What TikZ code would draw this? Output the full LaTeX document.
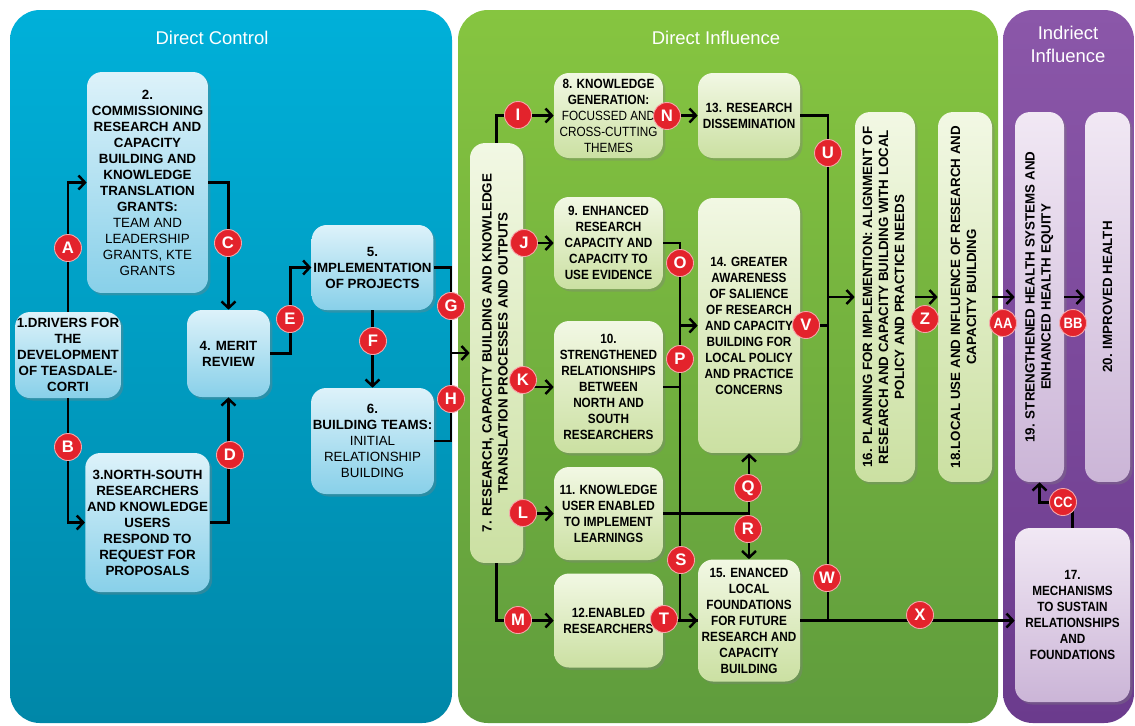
\documentclass[tikz,border=0pt]{standalone}
\usepackage{fontspec}
\setmainfont{Liberation Sans}
\newfontfamily\narrowfont[FakeStretch=0.88]{Liberation Sans}
\usetikzlibrary{positioning}
\usetikzlibrary{arrows.meta}
\usetikzlibrary{shadows}
\definecolor{ctrltop}{HTML}{00B0D9}
\definecolor{ctrlbottom}{HTML}{0087A8}
\definecolor{infltop}{HTML}{86C540}
\definecolor{inflbottom}{HTML}{5F9C3D}
\definecolor{indtop}{HTML}{8B57A9}
\definecolor{indbottom}{HTML}{6B3B8D}
\definecolor{ctrlboxtop}{HTML}{DDF2FA}
\definecolor{ctrlboxbottom}{HTML}{88D0E9}
\definecolor{inflboxtop}{HTML}{F2F8E4}
\definecolor{inflboxbottom}{HTML}{CBE0A2}
\definecolor{indboxtop}{HTML}{F1E8F4}
\definecolor{indboxbottom}{HTML}{CBB5D7}
\definecolor{badgered}{HTML}{E3232C}
\newcommand{\boxfont}{\fontsize{7.6}{9.1}\selectfont\bfseries}
\newcommand{\narrowbox}{\narrowfont\fontsize{7.6}{9.1}\selectfont\bfseries}
\newcommand{\plain}[1]{{\mdseries #1}}
\newcommand{\vlines}[1]{\rotatebox{90}{\begin{tabular}{@{}c@{}}#1\end{tabular}}}
\tikzstyle{panel} = [rounded corners=0.6cm]
\tikzstyle{paneltitle} = [white, font=\fontsize{10.5}{13}\selectfont, align=center]
\tikzstyle{process} = [rectangle, rounded corners=0.3cm, align=center, inner sep=1pt, drop shadow={opacity=0.35, shadow xshift=0.05cm, shadow yshift=-0.05cm}]
\tikzstyle{control} = [process, top color=ctrlboxtop, bottom color=ctrlboxbottom, font=\boxfont]
\tikzstyle{influence} = [process, top color=inflboxtop, bottom color=inflboxbottom, font=\narrowbox]
\tikzstyle{indirect} = [process, top color=indboxtop, bottom color=indboxbottom, font=\narrowbox]
\tikzstyle{badge} = [circle, fill=badgered, draw=white!60!badgered, line width=0.5pt, text=white, font=\fontsize{9.5}{10}\selectfont\bfseries, minimum size=0.54cm, inner sep=0pt]
\tikzstyle{double badge} = [badge, font=\narrowfont\fontsize{8.5}{9}\selectfont\bfseries]
\tikzstyle{link} = [line width=1.4pt]
\tikzstyle{arrowlink} = [link, -{Straight Barb[length=1.3mm, width=2.8mm]}]

\begin{document}
\begin{tikzpicture}[x=0.02cm, y=-0.02cm]
  \useasboundingbox (0,0) rectangle (1135,725);
  \fill[white] (0,0) rectangle (1135,725);
  % the three areas
  \path[panel, top color=ctrltop, bottom color=ctrlbottom] (10,10) rectangle (452,723);
  \path[panel, top color=infltop, bottom color=inflbottom] (458,10) rectangle (998,723);
  \path[panel, top color=indtop, bottom color=indbottom] (1003,10) rectangle (1134,723);
  \node[paneltitle] (tcontrol) at (212,38) {Direct Control};
  \node[paneltitle] (tinfluence) at (716,38) {Direct Influence};
  \node[paneltitle] (tindirect) at (1068,44) {Indriect\\Influence};

  % direct control
  \node[control, minimum width=2.0cm, minimum height=1.72cm] (n1) at (68,355) {1.DRIVERS FOR\\THE\\DEVELOPMENT\\OF TEASDALE-\\CORTI};
  \node[control, minimum width=2.42cm, minimum height=4.42cm] (n2) at (147.5,182.5) {2.\\COMMISSIONING\\RESEARCH AND\\CAPACITY\\BUILDING AND\\KNOWLEDGE\\TRANSLATION\\GRANTS:\\\plain{TEAM AND}\\\plain{LEADERSHIP}\\\plain{GRANTS, KTE}\\\plain{GRANTS}};
  \node[control, minimum width=2.42cm, minimum height=2.78cm] (n3) at (147.5,522.5) {3.NORTH-SOUTH\\RESEARCHERS\\AND KNOWLEDGE\\USERS\\RESPOND TO\\REQUEST FOR\\PROPOSALS};
  \node[control, minimum width=1.66cm, minimum height=1.74cm] (n4) at (228.5,353.5) {4. MERIT\\REVIEW};
  \node[control, minimum width=2.42cm, minimum height=1.7cm] (n5) at (372.5,267.5) {5.\\IMPLEMENTATION\\OF PROJECTS};
  \node[control, minimum width=2.42cm, minimum height=2.12cm] (n6) at (372.5,441) {6.\\BUILDING TEAMS:\\\plain{INITIAL}\\\plain{RELATIONSHIP}\\\plain{BUILDING}};

  % direct influence
  \node[influence, font=\boxfont, minimum width=1.06cm, minimum height=8.4cm] (n7) at (496.5,353) {\vlines{7. RESEARCH, CAPACITY BUILDING AND KNOWLEDGE\\TRANSLATION PROCESSES AND OUTPUTS}};
  \node[influence, minimum width=2.18cm, minimum height=1.7cm] (n8) at (608.5,115.5) {8. KNOWLEDGE\\GENERATION:\\\plain{FOCUSSED AND}\\\plain{CROSS-CUTTING}\\\plain{THEMES}};
  \node[influence, minimum width=2.18cm, minimum height=1.84cm] (n9) at (608.5,243) {9. ENHANCED\\RESEARCH\\CAPACITY AND\\CAPACITY TO\\USE EVIDENCE};
  \node[influence, minimum width=2.18cm, minimum height=2.64cm] (n10) at (608.5,387) {10.\\STRENGTHENED\\RELATIONSHIPS\\BETWEEN\\NORTH  AND\\SOUTH\\RESEARCHERS};
  \node[influence, minimum width=2.18cm, minimum height=1.86cm] (n11) at (608.5,513.5) {11. KNOWLEDGE\\USER ENABLED\\TO IMPLEMENT\\LEARNINGS};
  \node[influence, minimum width=2.18cm, minimum height=1.88cm] (n12) at (608.5,620.5) {12.ENABLED\\RESEARCHERS};
  \node[influence, minimum width=2.04cm, minimum height=1.7cm] (n13) at (749,115.5) {13. RESEARCH\\DISSEMINATION};
  \node[influence, minimum width=2.04cm, minimum height=5.1cm] (n14) at (749,325.5) {14. GREATER\\AWARENESS\\OF SALIENCE\\OF RESEARCH\\AND CAPACITY\\BUILDING FOR\\LOCAL POLICY\\AND PRACTICE\\CONCERNS};
  \node[influence, minimum width=2.04cm, minimum height=2.44cm] (n15) at (749,620.5) {15. ENANCED\\LOCAL\\FOUNDATIONS\\FOR FUTURE\\RESEARCH AND\\CAPACITY\\BUILDING};
  \node[influence, font=\boxfont, minimum width=1.2cm, minimum height=7.4cm] (n16) at (885,297) {\vlines{16. PLANNING FOR IMPLEMENTION: ALIGNMENT OF\\RESEARCH AND CAPACITY BUILDING WITH LOCAL\\POLICY AND PRACTICE NEEDS}};
  \node[influence, font=\boxfont, minimum width=1.08cm, minimum height=7.4cm] (n18) at (965,297) {\vlines{18.LOCAL USE AND INFLUENCE OF RESEARCH  AND\\CAPACITY BUILDING}};

  % indirect influence
  \node[indirect, font=\boxfont, minimum width=0.98cm, minimum height=7.4cm] (n19) at (1039.5,297) {\vlines{19. STRENGTHENED HEALTH SYSTEMS AND\\ENHANCED HEALTH EQUITY}};
  \node[indirect, font=\boxfont, minimum width=0.9cm, minimum height=7.4cm] (n20) at (1107.5,297) {\rotatebox{90}{20. IMPROVED HEALTH}};
  \node[indirect, minimum width=2.3cm, minimum height=3.48cm] (n17) at (1072.5,615) {17.\\MECHANISMS\\TO SUSTAIN\\RELATIONSHIPS\\AND\\FOUNDATIONS};

  % joints
  \coordinate (gh) at (451,353);
  \coordinate (c14) at (680,325.5);
  \coordinate (c16) at (828,297);

  % connectors
  \draw[arrowlink] (n1.north) |- (n2.west);
  \draw[arrowlink] (n1.south) |- (n3.west);
  \draw[arrowlink] (n2.east) -| (n4.north);
  \draw[arrowlink] (n3.east) -| (n4.south);
  \draw[arrowlink] (n4.east) -- ++(20,0) |- (n5.west);
  \draw[arrowlink] (n5.south) -- (n6.north);
  \draw[arrowlink] (n5.east) -| (gh) -- (n7.west);
  \draw[link] (n6.east) -| (gh);
  \draw[arrowlink] (n7.north) |- (n8.west);
  \draw[arrowlink] (n7.east |- n9.west) -- (n9.west);
  \draw[arrowlink] (n7.east |- n10.west) -- (n10.west);
  \draw[arrowlink] (n7.east |- n11.west) -- (n11.west);
  \draw[arrowlink] (n7.south) |- (n12.west);
  \draw[arrowlink] (n8.east) -- (n13.west);
  \draw[arrowlink] (n9.east) -| (c14) -- (n14.west);
  \draw[link] (n10.east) -| (c14);
  \draw[link] (n10.east) -- (n10.east -| c14) |- (n15.west);
  \draw[arrowlink] (n12.east) -- (n15.west);
  \draw[arrowlink] (n11.east) -| (n14.south);
  \draw[arrowlink] (n11.east -| n14.south) -- (n15.north);
  \draw[arrowlink] (n13.east) -| (c16) -- (n16.west);
  \draw[link] (n14.east) -| (c16);
  \draw[link] (n15.east) -| (c16);
  \draw[arrowlink] (n15.east) -- (n15.east -| n17.west);
  \draw[arrowlink] (n16.east) -- (n18.west);
  \draw[arrowlink] (n18.east) -- (n19.west);
  \draw[arrowlink] (n19.east) -- (n20.west);
  \draw[arrowlink] (n17.north) -- ++(0,-25) -| (n19.south);

  % letters
  \node[badge] (ba) at (68,248) {A};
  \node[badge] (bb) at (68,447) {B};
  \node[badge] (bc) at (228,243) {C};
  \node[badge] (bd) at (230,455) {D};
  \node[badge] (be) at (290,319) {E};
  \node[badge] (bf) at (373,341) {F};
  \node[badge] (bg) at (451,306) {G};
  \node[badge] (bh) at (451,399) {H};
  \node[badge] (bi) at (518,115) {I};
  \node[badge] (bj) at (524,243) {J};
  \node[badge] (bk) at (523,380) {K};
  \node[badge] (bl) at (523,513) {L};
  \node[badge] (bm) at (518,620) {M};
  \node[badge] (bn) at (667,116) {N};
  \node[badge] (bo) at (680,263) {O};
  \node[badge] (bp) at (680,359) {P};
  \node[badge] (bq) at (748,488) {Q};
  \node[badge] (br) at (748,529) {R};
  \node[badge] (bs) at (681,560) {S};
  \node[badge] (bt) at (664,619) {T};
  \node[badge] (bu) at (828,153) {U};
  \node[badge] (bv) at (806,325) {V};
  \node[badge] (bw) at (827,578) {W};
  \node[badge] (bx) at (920,615) {X};
  \node[badge] (bz) at (925,319) {Z};
  \node[double badge] (baa) at (1003,323) {AA};
  \node[double badge] (bbb) at (1073,323) {BB};
  \node[double badge] (bcc) at (1063,502) {CC};
\end{tikzpicture}
\end{document}
